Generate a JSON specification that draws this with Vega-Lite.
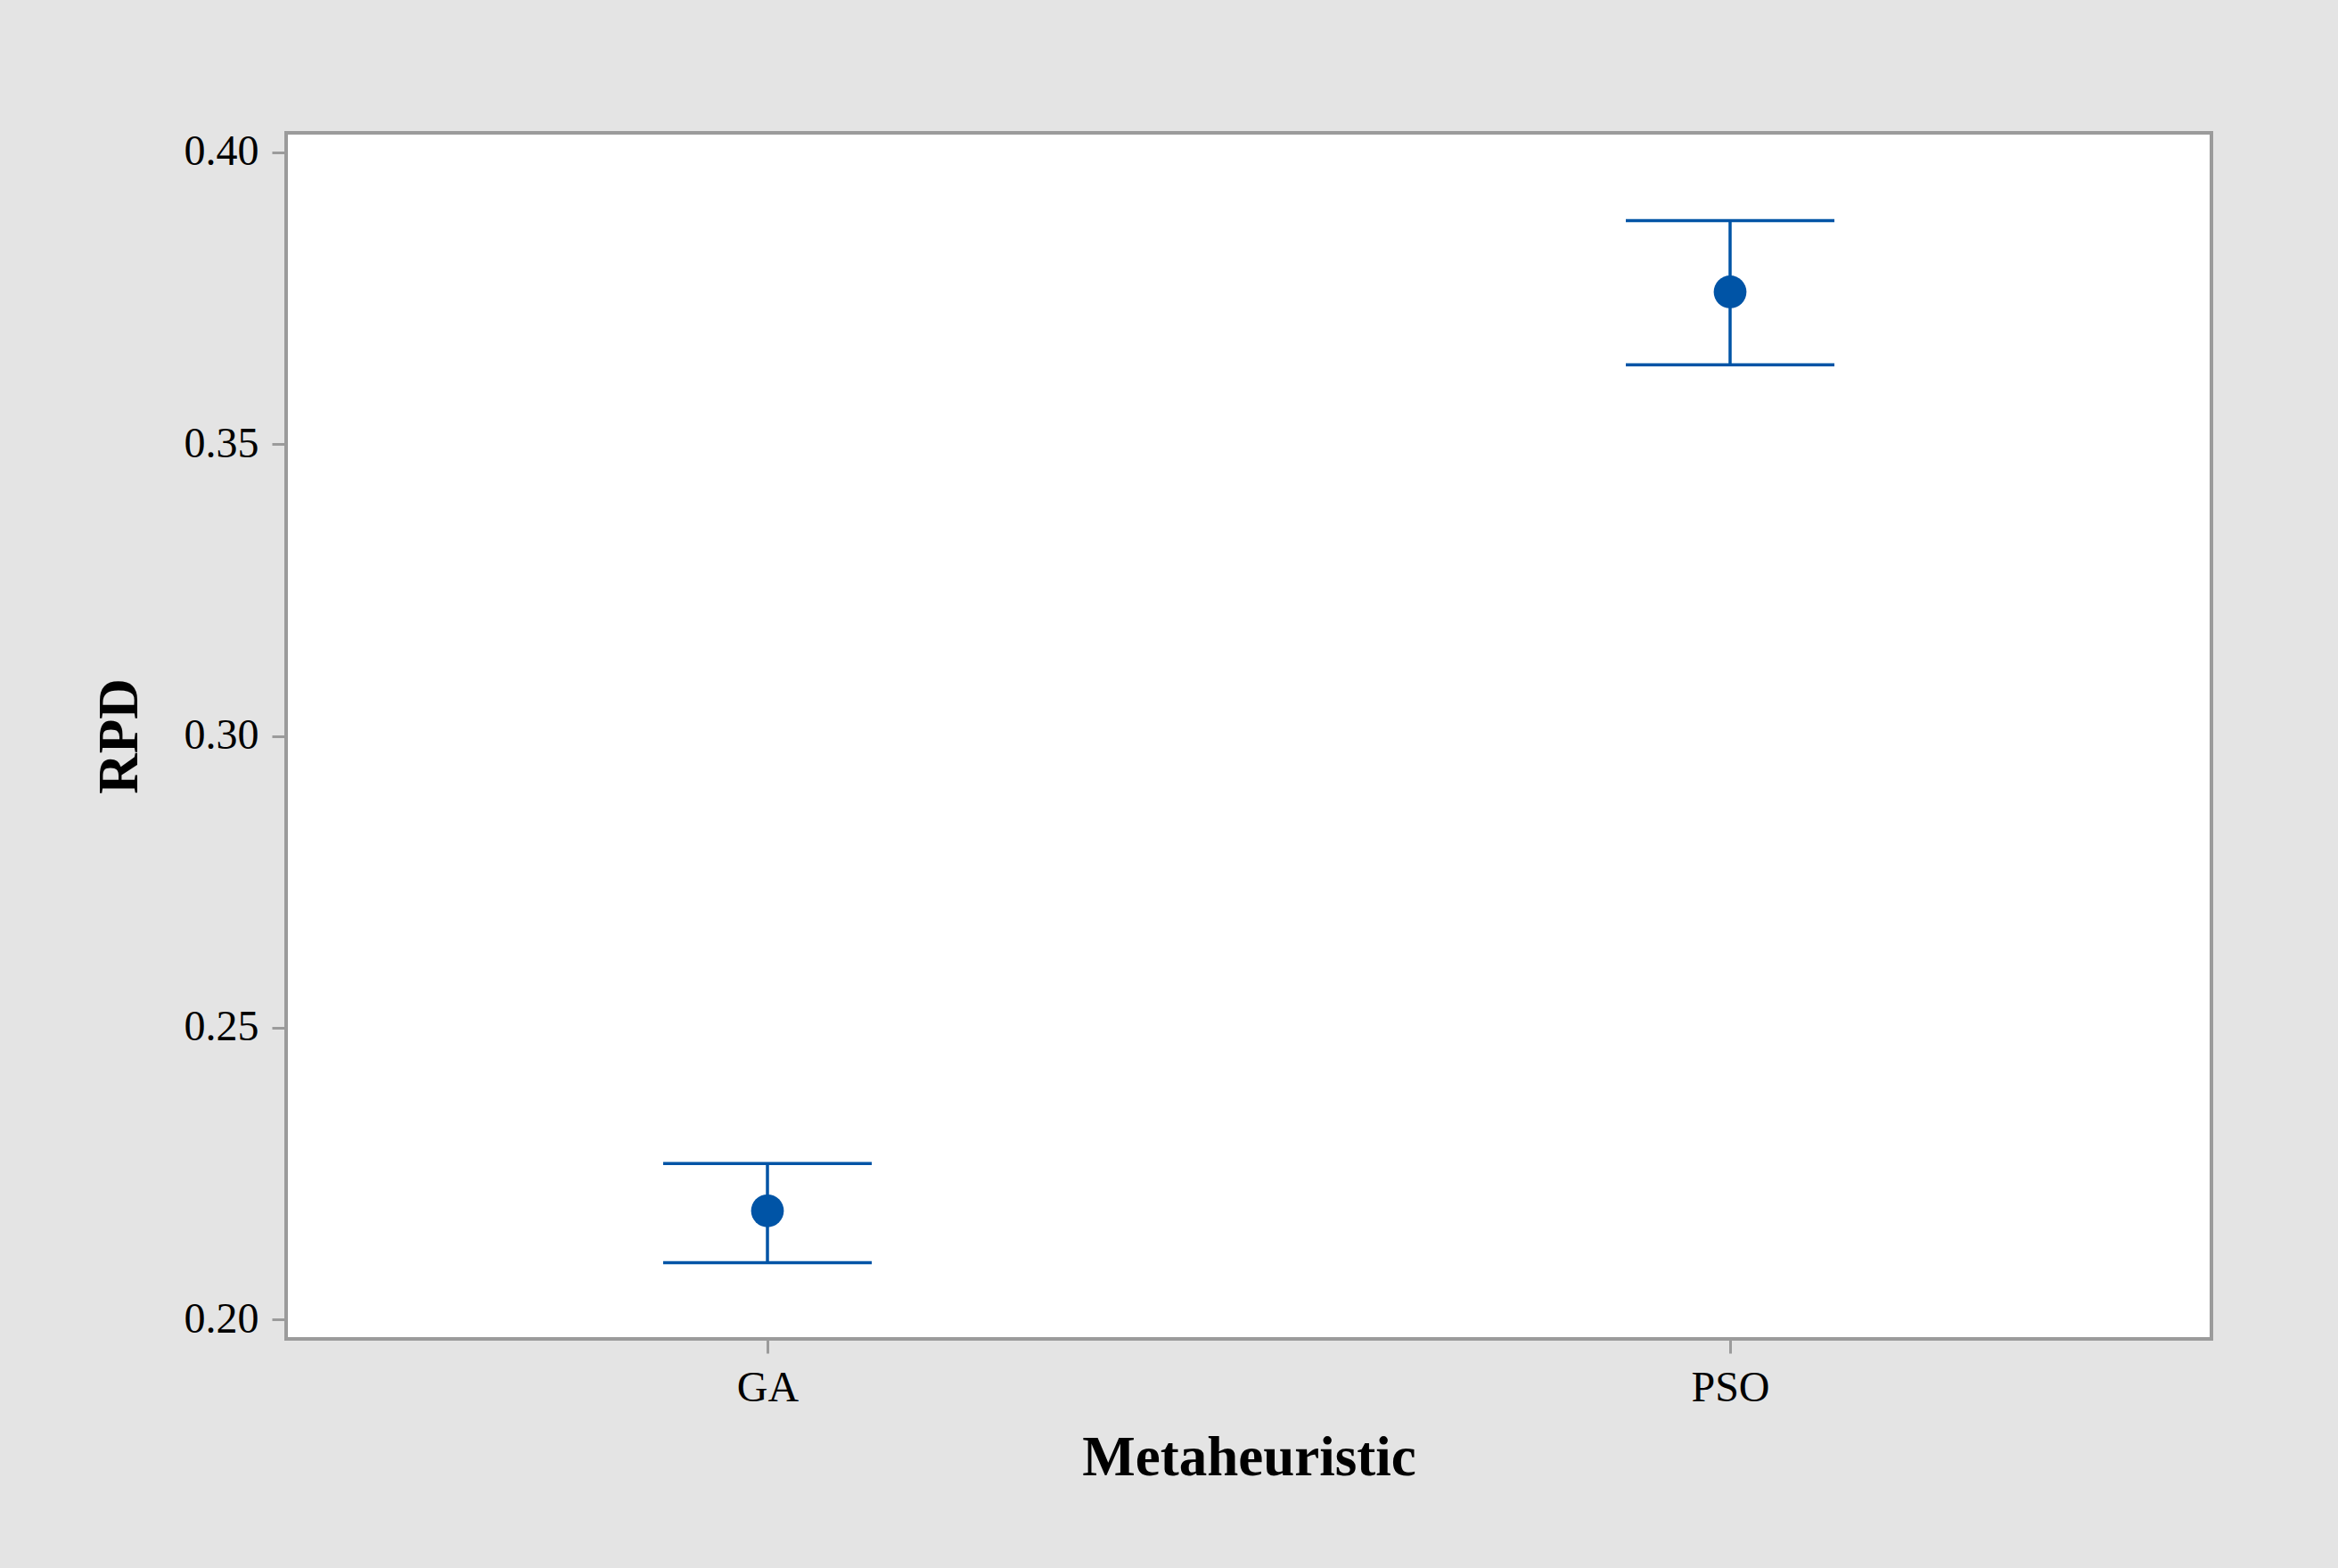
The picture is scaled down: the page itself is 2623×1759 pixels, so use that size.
{
  "$schema": "https://vega.github.io/schema/vega-lite/v6.json",
  "autosize": {"type": "none"},
  "width": 2160,
  "height": 1353,
  "padding": {"left": 321, "top": 149, "right": 142, "bottom": 257},
  "background": "#E4E4E4",
  "config": {
    "view": {"fill": "white", "stroke": "#9B9B9B", "strokeWidth": 4},
    "font": "Liberation Serif",
    "axis": {
      "domain": false,
      "grid": false,
      "ticks": true,
      "tickColor": "#9B9B9B",
      "tickWidth": 3,
      "tickSize": 16,
      "labelFont": "Liberation Serif",
      "labelFontSize": 48,
      "labelColor": "black",
      "labelPadding": 15,
      "titleFont": "Liberation Serif",
      "titleFontSize": 63,
      "titleFontWeight": "bold",
      "titleColor": "black"
    }
  },
  "data": {
    "values": [
      {"Metaheuristic": "GA", "mean": 0.2186, "lower": 0.2097, "upper": 0.2267},
      {"Metaheuristic": "PSO", "mean": 0.3761, "lower": 0.3636, "upper": 0.3883}
    ]
  },
  "encoding": {
    "x": {
      "field": "Metaheuristic",
      "type": "nominal",
      "scale": {"type": "point", "padding": 0.5},
      "axis": {"labelAngle": 0, "title": "Metaheuristic", "titlePadding": 23}
    }
  },
  "layer": [
    {
      "mark": {"type": "rule", "color": "#0054A6", "strokeWidth": 3.5, "opacity": 1},
      "encoding": {
        "y": {
          "field": "lower",
          "type": "quantitative",
          "scale": {"domain": [0.19664, 0.40336], "nice": false, "zero": false},
          "axis": {"values": [0.2, 0.25, 0.3, 0.35, 0.4], "format": ".2f", "title": "RPD", "titlePadding": 40}
        },
        "y2": {"field": "upper"}
      }
    },
    {
      "mark": {"type": "tick", "color": "#0054A6", "size": 234, "thickness": 3.5, "opacity": 1},
      "encoding": {"y": {"field": "lower", "type": "quantitative"}}
    },
    {
      "mark": {"type": "tick", "color": "#0054A6", "size": 234, "thickness": 3.5, "opacity": 1},
      "encoding": {"y": {"field": "upper", "type": "quantitative"}}
    },
    {
      "mark": {"type": "point", "filled": true, "shape": "circle", "size": 1350, "color": "#0054A6", "opacity": 1},
      "encoding": {"y": {"field": "mean", "type": "quantitative"}}
    }
  ]
}
